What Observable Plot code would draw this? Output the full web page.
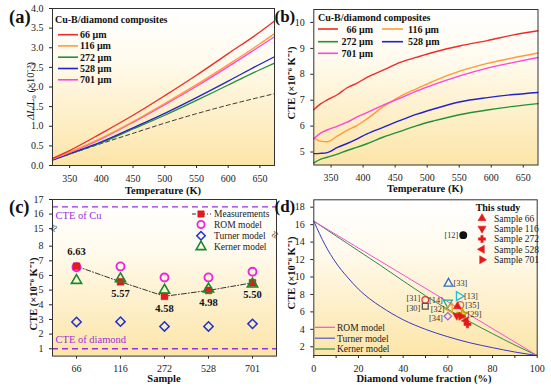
<!DOCTYPE html>
<html>
<head>
<meta charset="utf-8">
<script src="https://cdn.jsdelivr.net/npm/d3@7"></script>
<script src="https://cdn.jsdelivr.net/npm/@observablehq/plot@0.6"></script>
<style>
html,body{margin:0;padding:0;background:#fff;}
#wrap{position:relative;width:551px;height:386px;overflow:hidden;background:#fff;font-family:"Liberation Serif","Times New Roman",serif;}
</style>
</head>
<body>
<svg width="0" height="0" style="position:absolute;left:0;top:0">
<defs>
<linearGradient id="bg" x1="0" y1="0" x2="0" y2="1">
<stop offset="0" stop-color="#ffffff"/>
<stop offset="0.3" stop-color="#fffbf0"/>
<stop offset="1" stop-color="#fce5a8"/>
</linearGradient>
</defs>
</svg>
<div id="wrap"></div>
<script>
// ================= DATA =================
// Panel (a): ΔL/L0 (×10^-3) vs temperature (K)
const tempA = [323, 350, 400, 450, 500, 550, 600, 650, 673];
const dl66  = [0.18, 0.38, 0.82, 1.28, 1.78, 2.30, 2.85, 3.40, 3.68];
const dl116 = [0.17, 0.34, 0.70, 1.12, 1.58, 2.06, 2.57, 3.10, 3.36];
const dl272 = [0.14, 0.29, 0.58, 0.93, 1.28, 1.66, 2.05, 2.44, 2.61];
const dl528 = [0.14, 0.30, 0.60, 0.96, 1.33, 1.73, 2.15, 2.58, 2.77];
const dl701 = [0.16, 0.33, 0.68, 1.10, 1.55, 2.02, 2.52, 3.04, 3.28];
const dlRef = [0.15, 0.29, 0.56, 0.82, 1.08, 1.32, 1.54, 1.74, 1.83];
const ticksAx = [350, 400, 450, 500, 550, 600, 650];
const ticksAy = [0, 0.5, 1, 1.5, 2, 2.5, 3, 3.5, 4];

// Panel (b): CTE (×10^-6 K^-1) vs temperature (K)
const tempB  = [323, 333, 344, 360, 375, 390, 406, 432, 458, 484, 510, 552, 594, 635, 673];
const cte66  = [6.63, 6.85, 7.01, 7.22, 7.48, 7.65, 7.88, 8.17, 8.46, 8.66, 8.85, 9.10, 9.30, 9.52, 9.68];
const cte116 = [5.55, 5.42, 5.40, 5.62, 5.84, 6.02, 6.28, 6.76, 7.15, 7.45, 7.74, 8.13, 8.42, 8.64, 8.82];
const cte272 = [4.58, 4.72, 4.80, 4.92, 5.06, 5.18, 5.32, 5.58, 5.80, 6.02, 6.20, 6.45, 6.62, 6.76, 6.87];
const cte528 = [4.94, 4.95, 4.98, 5.18, 5.33, 5.50, 5.70, 5.96, 6.22, 6.46, 6.66, 6.94, 7.10, 7.22, 7.30];
const cte701 = [5.51, 5.72, 5.85, 6.00, 6.15, 6.35, 6.52, 6.82, 7.08, 7.36, 7.60, 7.95, 8.24, 8.46, 8.65];
const ticksBy = [5, 6, 7, 8, 9, 10];
const seriesNames = ["66 μm", "116 μm", "272 μm", "528 μm", "701 μm"];

// Panel (c): CTE per sample
const samples  = ["66", "116", "272", "528", "701"];
const measured = [6.63, 5.57, 4.58, 4.98, 5.50];
const romC     = [6.56, 6.62, 5.86, 5.87, 6.25];
const turnerC  = [2.83, 2.85, 2.52, 2.52, 2.70];
const kernerC  = [5.66, 5.78, 5.00, 5.08, 5.42];
const cteCu = 16.5, cteDiamond = 1.0;
const ticksCy = [1, 2, 3, 4, 5, 6, 7, 8, 15, 16, 17];

// Panel (d): CTE vs diamond volume fraction
const romVol = [0, 100];
const romCTE = [16.4, 1.0];
const modelVol = [0, 5, 10, 15, 20, 25, 30, 40, 50, 60, 70, 80, 90, 100];
const kernerD  = [16.4, 15.55, 14.7, 13.85, 13.0, 12.15, 11.3, 9.55, 7.85, 6.3, 4.85, 3.5, 2.2, 1.0];
const turnerD  = [16.4, 13.7, 11.6, 10.0, 8.6, 7.5, 6.6, 5.1, 4.0, 3.15, 2.45, 1.9, 1.4, 1.0];
const refNames = ["[12]", "[33]", "[13]", "[35]", "[31]", "[30]", "[14]", "[32]", "[34]", "[29]"];
const refVol   = [66.9, 60.3, 65.0, 65.6, 49.9, 49.9, 60.0, 60.8, 60.0, 66.6];
const refCTE   = [14.8, 9.25, 7.8, 6.8, 7.38, 6.65, 7.05, 6.4, 5.5, 5.75];
const studyVol = [64.3, 64.0, 68.8, 68.1, 66.0];
const studyCTE = measured;

// ================= HELPERS =================
const rows = (xs, ys) => xs.map((x, i) => ({x, y: ys[i]}));
const wrap = document.getElementById("wrap");
const baseStyle = {background: "transparent", fontFamily: "'Liberation Serif', serif", fontSize: "10px", color: "#222", overflow: "visible"};
const colA = ["#ee2b2b", "#ff9a3a", "#22913a", "#2222cc", "#ff44dd"];
const purple = "#9b30d9";
function tri(angle) {
  return {draw(ctx, size) {
    const r = Math.sqrt(size / 1.3);
    for (let i = 0; i < 3; i++) {
      const a = angle + i * 2 * Math.PI / 3;
      const x = r * Math.sin(a), y = -r * Math.cos(a);
      if (i === 0) ctx.moveTo(x, y); else ctx.lineTo(x, y);
    }
    ctx.closePath();
  }};
}
const triUp = tri(0), triDown = tri(Math.PI), triLeft = tri(-Math.PI / 2), triRight = tri(Math.PI / 2);
function place(svg, left, top) {
  svg.style.position = "absolute"; svg.style.left = left + "px"; svg.style.top = top + "px";
  wrap.appendChild(svg);
}

// ================= PANEL A =================
const dlSeries = [dl66, dl116, dl272, dl528, dl701];
const plotA = Plot.plot({
  width: 280, height: 198, marginLeft: 52, marginRight: 6, marginTop: 8, marginBottom: 33,
  style: baseStyle,
  x: {domain: [323, 673], ticks: ticksAx, tickSize: 3, label: null},
  y: {domain: [0, 4], ticks: ticksAy, tickFormat: d3.format(".1f"), tickSize: 3, label: null},
  marks: [
    Plot.frame({fill: "url(#bg)", stroke: "none"}),
    Plot.line(rows(tempA, dlRef), {x: "x", y: "y", stroke: "#222", strokeWidth: 0.9, strokeDasharray: "4,3", curve: "monotone-x"}),
    ...[2, 3, 4, 1, 0].map(i => Plot.line(rows(tempA, dlSeries[i]), {x: "x", y: "y", stroke: colA[i], strokeWidth: 1.3, curve: "monotone-x"})),
    Plot.frame({stroke: "#333"})
  ]
});
place(plotA, 0, 0);

// ================= PANEL B =================
const cteSeries = [cte66, cte116, cte272, cte528, cte701];
const plotB = Plot.plot({
  width: 281, height: 198, marginLeft: 43.3, marginRight: 13.5, marginTop: 9, marginBottom: 33.5,
  style: baseStyle,
  x: {domain: [323, 673], ticks: ticksAx, tickSize: 3, label: null},
  y: {domain: [4.5, 10.5], ticks: ticksBy, tickFormat: d3.format("d"), tickSize: 3, label: null},
  marks: [
    Plot.frame({fill: "url(#bg)", stroke: "none"}),
    ...[2, 3, 1, 4, 0].map(i => Plot.line(rows(tempB, cteSeries[i]), {x: "x", y: "y", stroke: colA[i], strokeWidth: 1.4, curve: "monotone-x"})),
    Plot.frame({stroke: "#333"})
  ]
});
place(plotB, 270, 0);

// ================= PANEL C =================
const rowsC = samples.map((s, i) => ({s, i, m: measured[i], rom: romC[i], tu: turnerC[i], ke: kernerC[i]}));
const plotC = Plot.plot({
  width: 280, height: 196, marginLeft: 52, marginRight: 4, marginTop: 9, marginBottom: 30.4,
  style: baseStyle,
  x: {type: "point", domain: samples, padding: 0.5, tickSize: 3, label: null},
  y: {type: "linear", domain: [0.5, 9.0, 14.84, 17], range: [165.6, 41, 40.5, 9], ticks: ticksCy, tickFormat: d3.format("d"), tickSize: 3, label: null},
  marks: [
    Plot.frame({fill: "url(#bg)", stroke: "none"}),
    Plot.ruleY([cteCu, cteDiamond], {stroke: purple, strokeWidth: 1.3, strokeDasharray: "6,4"}),
    Plot.text([cteCu], {y: d => d, frameAnchor: "left", dx: 3, dy: 9, text: () => "CTE of Cu", textAnchor: "start", fill: purple, fontSize: 10.5}),
    Plot.text([cteDiamond], {y: d => d, frameAnchor: "left", dx: 3, dy: -9, text: () => "CTE of diamond", textAnchor: "start", fill: purple, fontSize: 10.5}),
    Plot.line(rowsC, {x: "s", y: "m", stroke: "#333", strokeWidth: 1, strokeDasharray: "5,2,1,2"}),
    Plot.dot(rowsC, {x: "s", y: "rom", symbol: "circle", r: 4, fill: "none", stroke: "#ee22dd", strokeWidth: 1.9}),
    Plot.dot(rowsC, {x: "s", y: "tu", symbol: "diamond2", r: 4.2, fill: "none", stroke: "#1f33cc", strokeWidth: 1.5}),
    Plot.dot(rowsC, {x: "s", y: "m", symbol: "square", r: 3.8, fill: "#e41a1c", stroke: "#c41010", strokeWidth: 0.5}),
    Plot.dot(rowsC, {x: "s", y: "ke", symbol: triUp, r: 3.8, fill: "none", stroke: "#178a2a", strokeWidth: 1.6}),
    Plot.text(rowsC.filter(d => d.i === 0), {x: "s", y: "m", text: d => d.m.toFixed(2), dy: -15, fontWeight: "bold", fontSize: 10.5, fill: "#111"}),
    Plot.text(rowsC.filter(d => d.i > 0), {x: "s", y: "m", text: d => d.m.toFixed(2), dy: 12, fontWeight: "bold", fontSize: 10.5, fill: "#111"}),
    Plot.frame({stroke: "#333"}),
    Plot.text([9.0], {y: d => d, frameAnchor: "left", text: () => "≈", rotate: -65, fontSize: 13, fill: "#333"}),
    Plot.text([9.0], {y: d => d, frameAnchor: "right", text: () => "≈", rotate: -65, fontSize: 13, fill: "#333"})
  ]
});
place(plotC, 0, 190);

// ================= PANEL D =================
const refStyle = {
  "[12]": {symbol: "circle", fill: "#111", stroke: "#111", side: -1, dy: 0},
  "[33]": {symbol: triUp, fill: "none", stroke: "#2a6fd0", side: 1, dy: 0},
  "[13]": {symbol: triRight, fill: "none", stroke: "#22bfdc", side: 1, dy: 0},
  "[35]": {symbol: "circle", fill: "none", stroke: "#e06a5a", side: 1, dy: 0},
  "[31]": {symbol: "circle", fill: "none", stroke: "#e03a3a", side: -1, dy: -2},
  "[30]": {symbol: "square", fill: "none", stroke: "#555", side: -1, dy: 2},
  "[14]": {symbol: triDown, fill: "none", stroke: "#26a89a", side: -1, dy: -2.5},
  "[32]": {symbol: triLeft, fill: "none", stroke: "#f0a030", side: -1, dy: 0.7},
  "[34]": {symbol: "diamond2", fill: "none", stroke: "#9966dd", side: -1, dy: 2.2},
  "[29]": {symbol: "star", fill: "#e8d040", stroke: "#b8a000", side: 1, dy: 0.5}
};
const refRows = refNames.map((n, i) => ({n, x: refVol[i], y: refCTE[i]}));
const studySymbols = [triUp, triDown, "cross", triLeft, triRight];
const studyRows = samples.map((s, i) => ({s, i, x: studyVol[i], y: studyCTE[i]}));
const plotD = Plot.plot({
  width: 281, height: 196, marginLeft: 43.3, marginRight: 14.3, marginTop: 9.3, marginBottom: 31,
  style: baseStyle,
  x: {domain: [0, 100], ticks: d3.range(0, 101, 10), tickFormat: d => d % 20 === 0 ? d : "", tickSize: 3, label: null},
  y: {domain: [1, 18.85], ticks: d3.range(2, 19, 2), tickSize: 3, label: null},
  marks: [
    Plot.frame({fill: "url(#bg)", stroke: "none"}),
    Plot.line(rows(modelVol, turnerD), {x: "x", y: "y", stroke: "#3a3ac0", strokeWidth: 1, curve: "monotone-x"}),
    Plot.line(rows(modelVol, kernerD), {x: "x", y: "y", stroke: "#2e8b3e", strokeWidth: 1, curve: "monotone-x"}),
    Plot.line(rows(romVol, romCTE), {x: "x", y: "y", stroke: "#f050d8", strokeWidth: 1}),
    ...refRows.map(d => Plot.dot([d], {x: "x", y: "y", symbol: refStyle[d.n].symbol, r: 3.3, fill: refStyle[d.n].fill, stroke: refStyle[d.n].stroke, strokeWidth: 1.3})),
    ...refRows.map(d => Plot.text([d], {x: "x", y: "y", text: "n", textAnchor: refStyle[d.n].side < 0 ? "end" : "start", dx: 5 * refStyle[d.n].side, dy: refStyle[d.n].dy, fontSize: 8.3, fill: "#333"})),
    ...studyRows.map(d => Plot.dot([d], {x: "x", y: "y", symbol: studySymbols[d.i], r: 3, fill: "#e81818", stroke: "#e81818", strokeWidth: 0.5})),
    Plot.frame({stroke: "#333"})
  ]
});
place(plotD, 270, 190);

// ================= OVERLAY: axis titles, panel letters & legends =================
const ov = d3.select("#wrap").append("svg").attr("width", 551).attr("height", 386)
  .style("position", "absolute").style("left", "0px").style("top", "0px")
  .attr("font-family", "'Liberation Serif', serif");
const T = (x, y, s, o = {}) => {
  const t = ov.append("text").attr("x", x).attr("y", y).attr("dy", "0.35em")
    .attr("font-size", o.size || 10).attr("font-weight", o.bold ? "bold" : "normal")
    .attr("text-anchor", o.anchor || "start").attr("fill", o.fill || "#111");
  if (o.rotate) t.attr("transform", `rotate(${o.rotate},${x},${y})`);
  if (Array.isArray(s)) s.forEach(([str, it]) => t.append("tspan").attr("font-style", it ? "italic" : null).text(str));
  else t.text(s);
  return t;
};
const L = (x1, x2, y, c, w = 1.6, dash = null) => {
  const l = ov.append("line").attr("x1", x1).attr("x2", x2).attr("y1", y).attr("y2", y).attr("stroke", c).attr("stroke-width", w);
  if (dash) l.attr("stroke-dasharray", dash);
};
const S = (x, y, type, r, fill, stroke, sw = 1.4) => ov.append("path").attr("transform", `translate(${x},${y})`)
  .attr("d", d3.symbol(type, Math.PI * r * r)()).attr("fill", fill).attr("stroke", stroke).attr("stroke-width", sw);

// panel letters
T(9, 16.5, "(a)", {size: 18.5, bold: true});
T(274.5, 16.5, "(b)", {size: 17, bold: true});
T(9, 206.5, "(c)", {size: 18.5, bold: true});
T(274.5, 206.5, "(d)", {size: 17, bold: true});

// axis titles
const labelCTE = "CTE (×10⁻⁶ K⁻¹)";
T(163, 190, "Temperature (K)", {bold: true, size: 10.5, anchor: "middle"});
T(425, 188.5, "Temperature (K)", {bold: true, size: 10.5, anchor: "middle"});
T(164, 378, "Sample", {bold: true, size: 10.5, anchor: "middle"});
T(424, 378, "Diamond volume fraction (%)", {bold: true, size: 10.5, anchor: "middle"});
T(30, 91, [["ΔL", true], ["/L₀ (×10⁻³)", false]], {size: 10.5, anchor: "middle", rotate: -90});
T(291.5, 83, labelCTE, {bold: true, size: 10.5, anchor: "middle", rotate: -90});
T(33, 294, labelCTE, {bold: true, size: 10.5, anchor: "middle", rotate: -90});
T(291.5, 273, labelCTE, {bold: true, size: 10.5, anchor: "middle", rotate: -90});

// legend (a)
T(55, 19, "Cu-B/diamond composites", {bold: true});
[34.7, 45.9, 57.2, 68.5, 79.8].forEach((y, i) => { L(58, 78, y, colA[i], 1.6); T(80, y, seriesNames[i], {bold: true}); });

// legend (b)
T(318, 17.3, "Cu-B/diamond composites", {bold: true});
[[0, 29], [2, 41.7], [4, 53.3]].forEach(([i, y]) => { L(318, 338, y, colA[i], 1.6); T(373, y, seriesNames[i], {bold: true, anchor: "end"}); });
[[1, 29], [3, 41.7]].forEach(([i, y]) => { L(382, 403, y, colA[i], 1.6); T(408, y, seriesNames[i], {bold: true}); });

// legend (c)
L(192, 211, 214, "#333", 1, "4,2,1,2");
S(201, 214, d3.symbolSquare, 3.6, "#e41a1c", "#c41010", 0.5);
T(214, 214, "Measurements", {size: 9.5, fill: "#222"});
S(201, 224.5, d3.symbolCircle, 3.6, "none", "#ee22dd", 1.8);
T(214, 224.5, "ROM model", {size: 9.5, fill: "#222"});
S(201, 235.8, d3.symbolDiamond2 || d3.symbolDiamond, 3.8, "none", "#1f33cc", 1.5);
T(214, 235.8, "Turner model", {size: 9.5, fill: "#222"});
S(201, 246.8, triUp, 3.6, "none", "#178a2a", 1.6);
T(214, 246.8, "Kerner model", {size: 9.5, fill: "#222"});

// legend (d) this study
T(498, 207, "This study", {bold: true, anchor: "middle"});
[218.3, 228.5, 239, 249.3, 259.8].forEach((y, i) => {
  const sym = studySymbols[i] === "cross" ? d3.symbolCross : studySymbols[i];
  S(482, y, sym, 3, "#e81818", "#e81818", 0.5);
  T(494, y, "Sample " + samples[i], {size: 9.5, fill: "#222"});
});
// legend (d) models
L(315, 335, 327.3, "#f050d8", 1.2); T(337, 327.3, "ROM model", {size: 9.5, fill: "#222"});
L(315, 335, 338.2, "#5555c8", 1.2); T(337, 338.2, "Turner model", {size: 9.5, fill: "#222"});
L(315, 335, 349, "#2e8b3e", 1.2); T(337, 349, "Kerner model", {size: 9.5, fill: "#222"});
</script>
</body>
</html>
